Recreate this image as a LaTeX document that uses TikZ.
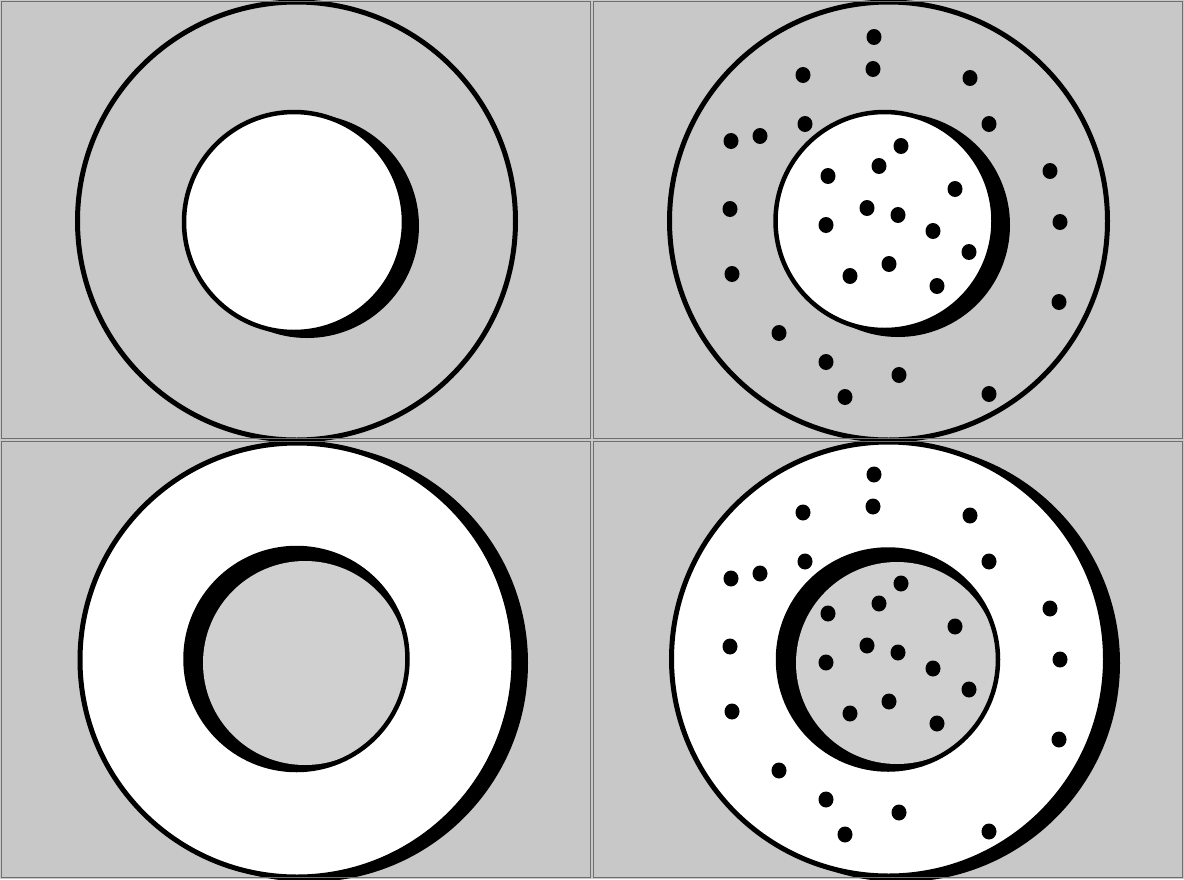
\documentclass[tikz,border=0pt]{standalone}
\definecolor{bg}{RGB}{200,200,200}
\definecolor{hole}{RGB}{208,208,208}
\definecolor{frame}{RGB}{110,110,110}
\tikzset{
  ring/.style={draw=black, line width=5pt},
  rim/.style={draw=black, line width=4.5pt},
  shade/.style={fill=black},
  dot/.style={fill=black},
  panelframe/.style={draw=frame, line width=1.2pt}
}
\newcommand{\dotset}{%
  \foreach \px/\py in {874/37,873/69,803/75,970/78,805/124,989/124,731/141,760/136,1050/171,730/209,1060/222,732/274,1059/302,779/333,826/362,899/375,845/397,989/394,
                       901/146,879/166,828/176,955/189,867/208,898/215,826/225,933/231,969/252,889/264,850/276,937/286}
    {\fill[dot] (\px,\py) ellipse [x radius=7.5, y radius=8];}%
}
\begin{document}
\begin{tikzpicture}[x=1pt,y=-1pt]
\useasboundingbox (0,0) rectangle (1184,879);
\fill[bg] (0,0) rectangle (1184,879);

% ---------- top-left panel ----------
\begin{scope}
\clip (0,0) rectangle (592,440);
\draw[ring] (296.5,221) circle [radius=219];
\fill[shade] (307,226) circle [radius=112];
\filldraw[fill=white, rim] (294,222) circle [radius=110];
\end{scope}

% ---------- top-right panel ----------
\begin{scope}
\clip (592,0) rectangle (1184,440);
\draw[ring] (888.5,221) circle [radius=219];
\fill[shade] (898,225) circle [radius=112];
\filldraw[fill=white, rim] (884.5,221) circle [radius=109];
\dotset
\end{scope}

% ---------- bottom-left panel ----------
\begin{scope}
\clip (0,440) rectangle (592,879);
\fill[shade] (309,663) circle [radius=219];
\filldraw[fill=white, ring] (297,660) circle [radius=217];
\fill[black] (296.5,659) circle [radius=111];
\begin{scope}
\clip (296.5,659) circle [radius=111];
\fill[hole] (305,663) circle [radius=102];
\end{scope}
\draw[rim] (296.5,659) circle [radius=111];
\end{scope}

% ---------- bottom-right panel ----------
\begin{scope}
\clip (592,440) rectangle (1184,879);
\fill[shade] (901,663) circle [radius=219];
\filldraw[fill=white, ring] (888.5,659) circle [radius=217];
\fill[black] (888,659.5) circle [radius=110];
\begin{scope}
\clip (888,659.5) circle [radius=110];
\fill[hole] (897,663) circle [radius=101];
\end{scope}
\draw[rim] (888,659.5) circle [radius=110];
\begin{scope}[yshift=-437.5pt]
\dotset
\end{scope}
\end{scope}

% ---------- frames ----------
\draw[panelframe] (1.5,1.5) rectangle (590.5,438.5);
\draw[panelframe] (593.5,1.5) rectangle (1182.5,438.5);
\draw[panelframe] (1.5,441.5) rectangle (590.5,877.5);
\draw[panelframe] (593.5,441.5) rectangle (1182.5,877.5);
\end{tikzpicture}
\end{document}
